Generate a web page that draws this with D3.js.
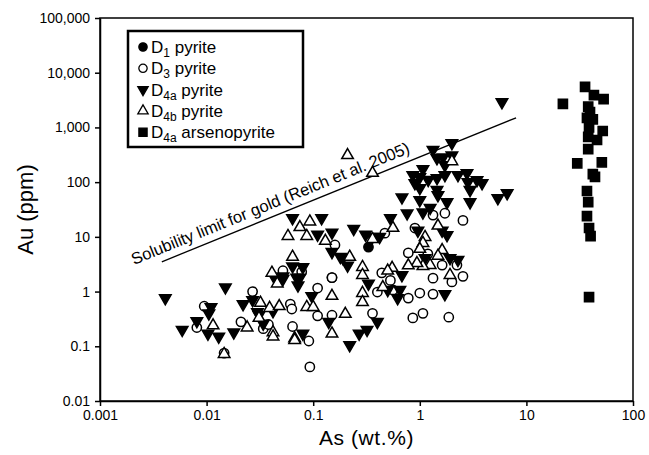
<!DOCTYPE html>
<html>
<head>
<meta charset="utf-8">
<script src="https://cdn.jsdelivr.net/npm/d3@7"></script>
<style>
  body { margin: 0; background: #fff; }
  text { font-family: "Liberation Sans", Arial, sans-serif; fill: #000; }
</style>
</head>
<body>
<div id="chart"></div>
<script>
// data: [As wt.%, Au ppm]
const d1Pyrite = [[0.33, 6.5], [0.15, 1.8]];

const d3Pyrite = [
  [0.0146, 0.075], [0.0095, 0.54], [0.0081, 0.22], [0.021, 0.28], [0.027, 1.0],
  [0.034, 0.21], [0.038, 0.25], [0.061, 0.59], [0.063, 0.48], [0.064, 0.23],
  [0.052, 2.4], [0.078, 2.3], [0.16, 7.1], [0.11, 1.16], [0.11, 0.36],
  [0.15, 0.37], [0.093, 0.042], [0.091, 0.125], [0.36, 0.40], [0.86, 0.33],
  [1.07, 0.40], [1.87, 0.34], [1.33, 25], [1.72, 27], [2.54, 20],
  [0.47, 11.7], [0.90, 14.5], [0.78, 5.1], [1.19, 4.9], [2.23, 3.05],
  [1.62, 3.05], [0.44, 2.2], [0.53, 1.6], [1.33, 1.76], [2.0, 1.5],
  [2.54, 1.9], [0.40, 0.98], [0.56, 1.07], [0.78, 0.76], [1.0, 0.94],
  [1.33, 0.90], [0.15, 1.8]
];

const d4aPyrite = [
  [0.0041, 0.76], [0.015, 1.2], [0.027, 0.70], [0.022, 0.59], [0.030, 0.42],
  [0.042, 0.44], [0.011, 0.52], [0.0105, 0.40], [0.0081, 0.29], [0.0059, 0.20],
  [0.0103, 0.17], [0.013, 0.15], [0.018, 0.18], [0.031, 0.37], [0.034, 0.26],
  [0.044, 1.7], [0.052, 1.7], [0.070, 1.8], [0.064, 22], [0.064, 2.9],
  [0.052, 1.9], [0.072, 1.3], [0.080, 2.8], [0.075, 1.8], [0.12, 22],
  [0.11, 11], [0.15, 12], [0.15, 5.3], [0.18, 4.3], [0.097, 0.83],
  [0.14, 0.28], [0.080, 0.17], [0.22, 0.105], [0.27, 0.17], [0.32, 0.20],
  [0.40, 0.28], [0.24, 14], [0.31, 11], [0.36, 10], [0.42, 10],
  [0.53, 22], [0.68, 53], [0.76, 27], [0.19, 4.1], [0.21, 3.0],
  [0.33, 1.4], [0.68, 2.0], [0.50, 1.07], [0.65, 1.07], [0.62, 0.76],
  [0.86, 135], [0.90, 96], [1.0, 124], [1.0, 78], [1.0, 47],
  [1.07, 28], [1.2, 110], [1.25, 34], [1.45, 119], [1.45, 72],
  [1.48, 58], [1.72, 135], [1.8, 43], [2.28, 135], [2.77, 147],
  [2.83, 100], [3.44, 109], [2.96, 43], [0.96, 13], [1.62, 13],
  [1.8, 10.8], [1.12, 4.1], [1.92, 4.1], [2.28, 3.8], [1.72, 0.90],
  [1.33, 390], [1.45, 275], [2.0, 310], [2.0, 520], [1.07, 174],
  [2.96, 72], [3.84, 96], [5.4, 51], [6.6, 63], [5.9, 2900],
  [1.65, 285], [1.72, 205]
];

const d4bPyrite = [
  [0.0146, 0.072], [0.032, 0.62], [0.039, 0.50], [0.048, 0.54], [0.0115, 0.24],
  [0.024, 0.22], [0.031, 0.33], [0.042, 0.18], [0.042, 0.15], [0.067, 0.14],
  [0.041, 2.2], [0.046, 1.4], [0.058, 10.3], [0.064, 4.3], [0.075, 15],
  [0.093, 19], [0.087, 10.3], [0.13, 8.4], [0.087, 0.52], [0.10, 0.52],
  [0.15, 0.83], [0.20, 0.39], [0.15, 0.17], [0.067, 0.13], [0.21, 310],
  [0.36, 147], [2.0, 240], [0.56, 14.5], [0.36, 9.1], [1.48, 16],
  [1.12, 9.9], [1.07, 7.7], [1.0, 6.0], [1.62, 5.7], [1.48, 4.5],
  [1.25, 3.05], [1.07, 2.9], [0.94, 3.3], [0.78, 3.0], [0.55, 2.7],
  [0.50, 2.4], [1.92, 2.0], [0.45, 1.2], [0.22, 4.3], [0.29, 2.8],
  [0.29, 2.0], [0.29, 0.94], [0.29, 0.64]
];

const d4aArsenopyrite = [
  [35.5, 5500], [43, 3900], [53, 3300], [22, 2700], [38, 2400],
  [39.5, 1900], [37, 1500], [42, 1400], [38.7, 1000], [52, 860],
  [38, 670], [46, 590], [38, 400], [30, 220], [51, 230],
  [42, 140], [44, 125], [37, 69], [38, 43], [37, 24],
  [38.7, 14.5], [40, 10.3], [38.7, 0.79]
];

// solubility limit line end points
const solubilityLine = [[0.0038, 3.5], [8, 1500]];
const solubilityLabel = "Solubility limit for gold (Reich et al. 2005)";

const xTicks = [0.001, 0.01, 0.1, 1, 10, 100];
const xTickLabels = ["0.001", "0.01", "0.1", "1", "10", "100"];
const yTicks = [0.01, 0.1, 1, 10, 100, 1000, 10000, 100000];
const yTickLabels = ["0.01", "0.1", "1", "10", "100", "1,000", "10,000", "100,000"];

const width = 649, height = 455;
const margin = { top: 18, right: 16, bottom: 54, left: 100 };

const svg = d3.select("#chart")
  .append("svg")
  .attr("width", width)
  .attr("height", height);

const x = d3.scaleLog()
  .domain([0.001, 100])
  .range([margin.left, width - margin.right]);

const y = d3.scaleLog()
  .domain([0.01, 100000])
  .range([height - margin.bottom, margin.top]);

// frame
svg.append("rect")
  .attr("x", margin.left)
  .attr("y", margin.top)
  .attr("width", width - margin.left - margin.right)
  .attr("height", height - margin.top - margin.bottom)
  .attr("fill", "none")
  .attr("stroke", "#000")
  .attr("stroke-width", 1.5);

// axes
const xAxis = svg.append("g")
  .attr("transform", `translate(0,${height - margin.bottom})`)
  .call(d3.axisBottom(x).tickValues(xTicks).tickFormat((d, i) => xTickLabels[i]).tickSize(5).tickSizeOuter(0));
const yAxis = svg.append("g")
  .attr("transform", `translate(${margin.left},0)`)
  .call(d3.axisLeft(y).tickValues(yTicks).tickFormat((d, i) => yTickLabels[i]).tickSize(5).tickSizeOuter(0));

[xAxis, yAxis].forEach(g => {
  g.select(".domain").attr("stroke-width", 1.5);
  g.selectAll(".tick line").attr("stroke-width", 1.5);
  g.selectAll(".tick text")
    .attr("style", "font-size: 14px; font-family: 'Liberation Sans', Arial, sans-serif")
    .attr("fill", "#000");
});
xAxis.selectAll(".tick text").attr("dy", "0.8em");
yAxis.selectAll(".tick text").attr("dx", "-2");

svg.append("text")
  .attr("x", (margin.left + width - margin.right) / 2)
  .attr("y", 445)
  .attr("text-anchor", "middle")
  .attr("style", "font-size: 21px; letter-spacing: 0.6px")
  .text("As (wt.%)");

svg.append("text")
  .attr("transform", `translate(33,${(margin.top + height - margin.bottom) / 2}) rotate(-90)`)
  .attr("text-anchor", "middle")
  .attr("style", "font-size: 22px")
  .text("Au (ppm)");

// solubility line
svg.append("line")
  .attr("x1", x(solubilityLine[0][0]))
  .attr("y1", y(solubilityLine[0][1]))
  .attr("x2", x(solubilityLine[1][0]))
  .attr("y2", y(solubilityLine[1][1]))
  .attr("stroke", "#000")
  .attr("stroke-width", 1.3);

const ang = Math.atan2(y(solubilityLine[1][1]) - y(solubilityLine[0][1]),
  x(solubilityLine[1][0]) - x(solubilityLine[0][0])) * 180 / Math.PI;
svg.append("text")
  .attr("transform", `translate(134,265) rotate(${ang})`)
  .attr("style", "font-size: 16.5px")
  .text(solubilityLabel);

// symbols
const sym = {
  filledCircle: { type: d3.symbolCircle, size: 68, fill: "#000", rot: 0 },
  openCircle: { type: d3.symbolCircle, size: 68, fill: "#fff", rot: 0 },
  downTri: { type: d3.symbolTriangle, size: 58, fill: "#000", rot: 180 },
  upTri: { type: d3.symbolTriangle, size: 58, fill: "#fff", rot: 0 },
  square: { type: d3.symbolSquare, size: 84, fill: "#000", rot: 0 }
};

const series = [
  { data: d1Pyrite, s: sym.filledCircle },
  { data: d3Pyrite, s: sym.openCircle },
  { data: d4aPyrite, s: sym.downTri },
  { data: d4bPyrite, s: sym.upTri },
  { data: d4aArsenopyrite, s: sym.square }
];

series.forEach(sr => {
  svg.append("g")
    .selectAll("path")
    .data(sr.data)
    .join("path")
    .attr("d", d3.symbol().type(sr.s.type).size(sr.s.size))
    .attr("transform", d => `translate(${x(d[0])},${y(d[1])}) rotate(${sr.s.rot})`)
    .attr("fill", sr.s.fill)
    .attr("stroke", "#000")
    .attr("stroke-width", 1.5);
});

// legend
const legendItems = [
  { main: "D", sub: "1", rest: " pyrite", s: sym.filledCircle },
  { main: "D", sub: "3", rest: " pyrite", s: sym.openCircle },
  { main: "D", sub: "4a", rest: " pyrite", s: sym.downTri },
  { main: "D", sub: "4b", rest: " pyrite", s: sym.upTri },
  { main: "D", sub: "4a", rest: " arsenopyrite", s: sym.square }
];

const legend = svg.append("g");
legend.append("rect")
  .attr("x", 128).attr("y", 31)
  .attr("width", 175).attr("height", 116)
  .attr("fill", "#fff")
  .attr("stroke", "#000")
  .attr("stroke-width", 2.5);

legendItems.forEach((it, i) => {
  const cy = 47 + i * 21.3;
  legend.append("path")
    .attr("d", d3.symbol().type(it.s.type).size(it.s.size * 0.8))
    .attr("transform", `translate(143,${cy}) rotate(${it.s.rot})`)
    .attr("fill", it.s.fill)
    .attr("stroke", "#000")
    .attr("stroke-width", 1.3);
  const t = legend.append("text")
    .attr("x", 151)
    .attr("y", cy + 6)
    .attr("style", "font-size: 17px");
  t.append("tspan").text(it.main);
  t.append("tspan").attr("dy", 4).attr("style", "font-size: 12px").text(it.sub);
  t.append("tspan").attr("dy", -4).text(it.rest);
});
</script>
</body>
</html>
